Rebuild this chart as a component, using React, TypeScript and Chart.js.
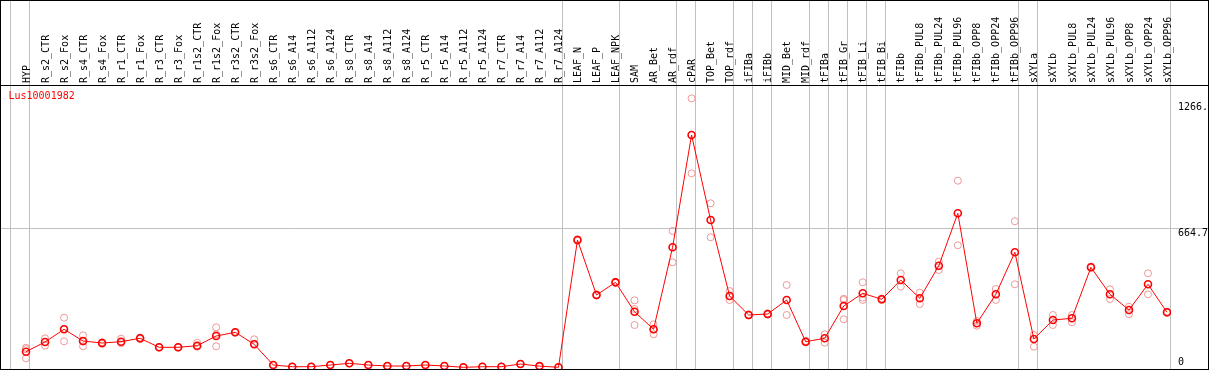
import React, { useEffect, useRef } from 'react';
import { Chart, registerables } from 'chart.js';

Chart.register(...registerables);

const geneName = 'Lus10001982';

const categories = [
  'HYP', 'R_s2_CTR', 'R_s2_Fox', 'R_s4_CTR', 'R_s4_Fox', 'R_r1_CTR', 'R_r1_Fox', 'R_r3_CTR', 'R_r3_Fox',
  'R_r1s2_CTR', 'R_r1s2_Fox', 'R_r3s2_CTR', 'R_r3s2_Fox', 'R_s6_CTR', 'R_s6_A14', 'R_s6_A112', 'R_s6_A124',
  'R_s8_CTR', 'R_s8_A14', 'R_s8_A112', 'R_s8_A124', 'R_r5_CTR', 'R_r5_A14', 'R_r5_A112', 'R_r5_A124',
  'R_r7_CTR', 'R_r7_A14', 'R_r7_A112', 'R_r7_A124', 'LEAF_N', 'LEAF_P', 'LEAF_NPK', 'SAM', 'AR_Bet', 'AR_rdf',
  'cPAR', 'TOP_Bet', 'TOP_rdf', 'iFIBa', 'iFIBb', 'MID_Bet', 'MID_rdf', 'tFIBa', 'tFIB_Gr', 'tFIB_Li', 'tFIB_Bi',
  'tFIBb', 'tFIBb_PUL8', 'tFIBb_PUL24', 'tFIBb_PUL96', 'tFIBb_OPP8', 'tFIBb_OPP24', 'tFIBb_OPP96',
  'sXYLa', 'sXYLb', 'sXYLb_PUL8', 'sXYLb_PUL24', 'sXYLb_PUL96', 'sXYLb_OPP8', 'sXYLb_OPP24', 'sXYLb_OPP96',
];

const means = [
  76.7, 122.9, 183.3, 127.6, 118, 124.4, 140.5, 97.6, 97.6,
  105.2, 151.4, 169, 111.9, 13.3, 5.2, 5.2, 13.3,
  21.4, 13.3, 8.6, 8.6, 13.3, 8.6, 2.4, 5.2,
  5.2, 18, 8, 2.4, 608.6, 346.7, 407, 267.1, 183.3, 573.8,
  1108.6, 703.8, 341.9, 251.4, 256.2, 322.9, 124.3, 140.5, 294.3, 354.8, 326.2,
  418.1, 331, 486.2, 735.7, 211.9, 350, 550,
  137.1, 227.6, 235.7, 478.6, 350, 275.2, 397.6, 264.3,
];

const rep1 = [
  95.7, 140.5, 238.6, 154.8, 122, 138.6, 144, 99, 99,
  119.5, 192.9, 171, 135.7, 13.3, 5.2, 5.2, 13.3,
  21.4, 13.3, 8.6, 8.6, 13.3, 8.6, 2.4, 5.2,
  5.2, 18, 8, 2.4, 612, 350, 410, 321.4, 207, 651.4,
  1283, 783.3, 365.7, 254, 259, 394.3, 128, 159.5, 322.9, 407.1, 330,
  450, 357.6, 505.2, 891, 222.9, 375.2, 697.6,
  156.2, 251.4, 251.4, 482, 373.8, 291, 450, 267,
];

const rep2 = [
  45.2, 105.2, 126.2, 102.4, 114, 116.7, 137, 96, 96,
  100.5, 102.4, 167, 114.8, 13.3, 5.2, 5.2, 13.3,
  21.4, 13.3, 8.6, 8.6, 13.3, 8.6, 2.4, 5.2,
  5.2, 18, 8, 2.4, 605, 344, 404, 203.8, 159.5, 502.4,
  926, 621.4, 322.9, 249, 253, 251.4, 121, 119.5, 231, 322.9, 323,
  386.2, 303.8, 465.7, 583.3, 200.5, 322.9, 397.6,
  100.5, 203.8, 216.7, 476, 327.6, 254.8, 350, 262,
];

const rep3 = [
  89, null, 185, 125, null, null, null, null, null,
  null, 159, null, null, null, null, null, null,
  null, null, null, null, null, null, null, null,
  null, null, null, null, null, null, null, 280, 183, null,
  null, null, null, null, null, null, null, null, 329, 334, null,
  null, null, null, null, null, null, null,
  null, null, null, null, null, null, null, null,
];

// index of the last column of each group (-1 = before the first column)
const groupEnds = [-1, 0, 28, 31, 34, 35, 37, 38, 39, 41, 42, 43, 44, 45, 52, 53, 60];

const yTickValues = [0, 664.7, 1266.4];
const yTickLabels = ['0', '664.7', '1266.'];

const FONT = "'DejaVu Sans Mono', 'Liberation Mono', monospace";
const X_MIN = -1.3146;
const X_MAX = 60.21;
const Y_MIN = -5.7;
const Y_MAX = 1346.7;

const toPoints = (arr: (number | null)[]) =>
  arr.map((v, i) => (v == null ? null : { x: i, y: v })).filter((p) => p !== null) as { x: number; y: number }[];

const noPad = (s: any) => {
  s.paddingLeft = 0;
  s.paddingRight = 0;
  s.paddingTop = 0;
  s.paddingBottom = 0;
};

export default function App() {
  const ref = useRef<HTMLCanvasElement>(null);

  useEffect(() => {
    document.body.style.margin = '0';
    const canvas = ref.current;
    if (!canvas) return;

    const titlePlugin = {
      id: 'geneTitle',
      afterDatasetsDraw(chart: any) {
        const c = chart.ctx;
        c.save();
        c.font = `10px ${FONT}`;
        c.fillStyle = '#ff0000';
        c.textAlign = 'left';
        c.textBaseline = 'middle';
        c.fillText(geneName, chart.chartArea.left + 7.5, chart.chartArea.top + 11.5);
        c.restore();
      },
    };

    const pink = 'rgba(235,135,135,0.85)';
    const repDataset = (arr: (number | null)[], order: number) => ({
      type: 'line' as const,
      data: toPoints(arr),
      xAxisID: 'x',
      yAxisID: 'y',
      showLine: false,
      pointRadius: 3.5,
      pointBorderWidth: 1,
      pointBorderColor: pink,
      pointBackgroundColor: 'rgba(0,0,0,0)',
      borderColor: pink,
      order,
    });

    const chart = new Chart(canvas, {
      type: 'line',
      data: {
        datasets: [
          {
            label: geneName,
            data: toPoints(means),
            xAxisID: 'x',
            yAxisID: 'y',
            borderColor: '#ff0000',
            borderWidth: 1,
            pointRadius: 3.5,
            pointBorderWidth: 1.6,
            pointBorderColor: '#ff0000',
            pointBackgroundColor: 'rgba(0,0,0,0)',
            tension: 0,
            order: 0,
          },
          repDataset(rep1, 1),
          repDataset(rep2, 2),
          repDataset(rep3, 3),
        ] as any,
      },
      options: {
        animation: false,
        responsive: false,
        devicePixelRatio: 1,
        layout: { padding: 0, autoPadding: false },
        plugins: {
          legend: { display: false },
          tooltip: { enabled: false },
        },
        scales: {
          x: {
            type: 'linear',
            position: 'top',
            weight: 10,
            min: X_MIN,
            max: X_MAX,
            afterBuildTicks: (s: any) => {
              s.ticks = categories.map((_, i) => ({ value: i }));
            },
            afterFit: (s: any) => {
              s.height = 84;
              noPad(s);
            },
            grid: { display: false, drawTicks: false },
            border: { display: false },
            ticks: {
              autoSkip: false,
              minRotation: 90,
              maxRotation: 90,
              padding: 2,
              labelOffset: 13,
              color: '#000',
              font: { family: FONT, size: 10 },
              callback: (v: any) => categories[v as number] ?? '',
            },
          },
          xSep: {
            type: 'linear',
            position: 'top',
            weight: 0,
            min: X_MIN,
            max: X_MAX,
            afterBuildTicks: (s: any) => {
              s.ticks = groupEnds.map((g) => ({ value: g + 0.2 }));
            },
            afterFit: (s: any) => {
              s.height = 0;
              noPad(s);
            },
            grid: { color: '#c0c0c0', lineWidth: 1, drawTicks: true, tickLength: 84, drawOnChartArea: true },
            border: { display: false },
            ticks: { display: false },
          },
          y: {
            type: 'linear',
            position: 'right',
            min: Y_MIN,
            max: Y_MAX,
            afterBuildTicks: (s: any) => {
              s.ticks = [...yTickValues.map((v) => ({ value: v })), { value: Y_MAX }];
            },
            afterFit: (s: any) => {
              s.width = 37;
              noPad(s);
            },
            grid: {
              drawTicks: true,
              tickLength: 37,
              lineWidth: 1,
              color: (ctx: any) => {
                const v = ctx.tick ? ctx.tick.value : null;
                if (v === Y_MAX) return '#000000';
                if (v === 664.7) return '#c0c0c0';
                return 'rgba(0,0,0,0)';
              },
            },
            border: { display: false },
            ticks: {
              autoSkip: false,
              padding: -30,
              labelOffset: 5.5,
              color: '#000',
              font: { family: FONT, size: 10, lineHeight: 1.1 },
              callback: (v: any) => {
                const idx = yTickValues.indexOf(v as number);
                if (idx < 0) return '';
                return v === 0 ? [yTickLabels[idx], '', ''] : yTickLabels[idx];
              },
            },
          },
        },
      } as any,
      plugins: [titlePlugin],
    });

    return () => chart.destroy();
  }, []);

  return (
    <div style={{ width: 1207, height: 368, border: '1px solid #000' }}>
      <canvas ref={ref} width={1207} height={368} style={{ display: 'block', width: 1207, height: 368 }} />
    </div>
  );
}
